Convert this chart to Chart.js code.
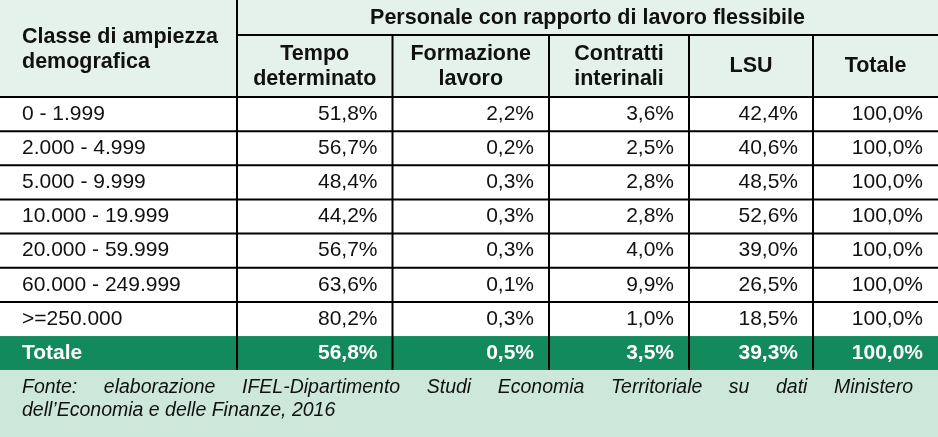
<!DOCTYPE html>
<html>
<head>
<meta charset="utf-8">
<script src="https://cdn.jsdelivr.net/npm/chart.js@4.4.1/dist/chart.umd.min.js"></script>
<style>
  html, body { margin: 0; padding: 0; background: #fff; }
  #wrap { width: 938px; height: 437px; position: relative; }
</style>
</head>
<body>
<div id="wrap"><canvas id="tabella"></canvas></div>
<script>
// dati della tabella
const titolo = 'Personale con rapporto di lavoro flessibile';
const primaColonna = ['Classe di ampiezza', 'demografica'];
const colonne = [['Tempo', 'determinato'], ['Formazione', 'lavoro'], ['Contratti', 'interinali'], ['LSU'], ['Totale']];
const classi = ['0 - 1.999', '2.000 - 4.999', '5.000 - 9.999', '10.000 - 19.999', '20.000 - 59.999', '60.000 - 249.999', '>=250.000'];
const tempoDeterminato = [51.8, 56.7, 48.4, 44.2, 56.7, 63.6, 80.2];
const formazioneLavoro = [2.2, 0.2, 0.3, 0.3, 0.3, 0.1, 0.3];
const contrattiInterinali = [3.6, 2.5, 2.8, 2.8, 4.0, 9.9, 1.0];
const lsu = [42.4, 40.6, 48.5, 52.6, 39.0, 26.5, 18.5];
const totale = [100.0, 100.0, 100.0, 100.0, 100.0, 100.0, 100.0];
const rigaTotale = ['Totale', 56.8, 0.5, 3.5, 39.3, 100.0];
const fonte = ['Fonte: elaborazione IFEL-Dipartimento Studi Economia Territoriale su dati Ministero',
               'dell\u2019Economia e delle Finanze, 2016'];

// layout (unita' delle scale)
const W = 938, H = 437;
const bordi = [0, 237, 392.5, 549, 689, 813, 938];
const yTitolo = 35, yHead = 97, hRiga = 34.15, yFonte = 370;
const FONT = '"Liberation Sans", Arial, sans-serif';

const fmt = v => v.toFixed(1).replace('.', ',') + '%';

const tabellaPlugin = {
  id: 'tabella',
  beforeDraw(chart) {
    const ctx = chart.ctx;
    const sx = chart.scales.x, sy = chart.scales.y;
    const px = v => sx.getPixelForValue(v);
    const py = v => sy.getPixelForValue(v);
    const serie = [tempoDeterminato, formazioneLavoro, contrattiInterinali, lsu, totale];
    const nR = classi.length;
    const yTot = yHead + nR * hRiga;

    ctx.save();
    // sfondi
    ctx.fillStyle = '#e4f2eb';
    ctx.fillRect(px(0), py(0), px(W) - px(0), py(yHead) - py(0));
    ctx.fillStyle = '#ffffff';
    ctx.fillRect(px(0), py(yHead), px(W) - px(0), py(yTot) - py(yHead));
    ctx.fillStyle = '#138a5b';
    ctx.fillRect(px(0), py(yTot), px(W) - px(0), py(yFonte) - py(yTot));
    ctx.fillStyle = '#cde7db';
    ctx.fillRect(px(0), py(yFonte), px(W) - px(0), py(H) - py(yFonte));

    // linee
    ctx.strokeStyle = '#000';
    ctx.lineWidth = 2;
    const linea = (x1, y1, x2, y2) => {
      ctx.beginPath(); ctx.moveTo(px(x1), py(y1)); ctx.lineTo(px(x2), py(y2)); ctx.stroke();
    };
    linea(bordi[1], yTitolo, W, yTitolo);
    linea(0, yHead, W, yHead);
    for (let i = 1; i < nR; i++) linea(0, yHead + i * hRiga, W, yHead + i * hRiga);
    linea(bordi[1], 0, bordi[1], yFonte);
    for (let c = 2; c < bordi.length - 1; c++) linea(bordi[c], yTitolo, bordi[c], yFonte);

    // intestazione
    ctx.fillStyle = '#111';
    ctx.textBaseline = 'middle';
    ctx.font = 'bold 21.5px ' + FONT;
    ctx.textAlign = 'center';
    ctx.fillText(titolo, (px(bordi[1]) + px(W)) / 2, py(18));
    ctx.textAlign = 'left';
    ctx.fillText(primaColonna[0], px(22), py(37));
    ctx.fillText(primaColonna[1], px(22), py(62));
    ctx.textAlign = 'center';
    colonne.forEach((righe, c) => {
      const cx = (px(bordi[c + 1]) + px(bordi[c + 2])) / 2;
      const mid = 66.5;
      righe.forEach((t, k) => {
        const yy = mid + (k - (righe.length - 1) / 2) * 25;
        ctx.fillText(t, cx, py(yy));
      });
    });

    // righe dati
    ctx.font = '21px ' + FONT;
    classi.forEach((cl, i) => {
      const yc = py(yHead + (i + 0.5) * hRiga);
      ctx.fillStyle = '#111';
      ctx.textAlign = 'left';
      ctx.fillText(cl, px(22), yc);
      ctx.textAlign = 'right';
      serie.forEach((s, c) => ctx.fillText(fmt(s[i]), px(bordi[c + 2]) - 15, yc));
    });

    // riga totale
    ctx.font = 'bold 21px ' + FONT;
    ctx.fillStyle = '#fff';
    const yct = py((yTot + yFonte) / 2);
    ctx.textAlign = 'left';
    ctx.fillText(rigaTotale[0], px(22), yct);
    ctx.textAlign = 'right';
    rigaTotale.slice(1).forEach((v, c) => ctx.fillText(fmt(v), px(bordi[c + 2]) - 15, yct));

    // fonte (prima riga giustificata)
    ctx.font = 'italic 19.5px ' + FONT;
    ctx.fillStyle = '#111';
    ctx.textAlign = 'left';
    const parole = fonte[0].split(' ');
    const larg = parole.reduce((a, p) => a + ctx.measureText(p).width, 0);
    const gap = (px(913) - px(22) - larg) / (parole.length - 1);
    let xx = px(22);
    parole.forEach(p => { ctx.fillText(p, xx, py(388)); xx += ctx.measureText(p).width + gap; });
    ctx.fillText(fonte[1], px(22), py(411));
    ctx.restore();
  }
};

new Chart(document.getElementById('tabella'), {
  type: 'scatter',
  data: { datasets: [{ data: [], pointRadius: 0 }] },
  options: {
    responsive: true,
    maintainAspectRatio: false,
    animation: false,
    events: [],
    layout: { padding: 0 },
    plugins: { legend: { display: false }, tooltip: { enabled: false } },
    scales: {
      x: { type: 'linear', min: 0, max: W, display: false },
      y: { type: 'linear', min: 0, max: H, reverse: true, display: false }
    }
  },
  plugins: [tabellaPlugin]
});
</script>
</body>
</html>
